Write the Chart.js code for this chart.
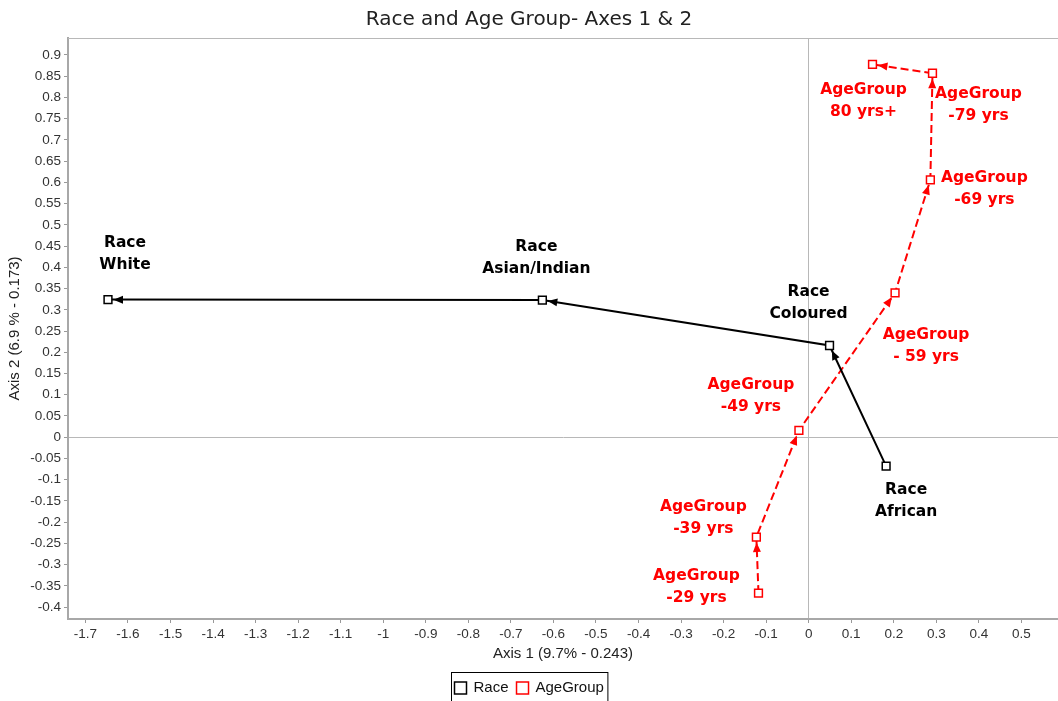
<!DOCTYPE html>
<html>
<head>
<meta charset="utf-8">
<title>Race and Age Group- Axes 1 & 2</title>
<script src="https://cdn.jsdelivr.net/npm/chart.js@4.4.1/dist/chart.umd.min.js"></script>
<style>
  html, body { margin: 0; padding: 0; background: #fff; }
</style>
</head>
<body>
<canvas id="chart" width="1058" height="701"></canvas>
<script>
// category names, in the order the arrows run
const raceNames = ['African', 'Coloured', 'Asian/Indian', 'White'];
const raceAxis1 = [0.182, 0.049, -0.626, -1.647];
const raceAxis2 = [-0.068, 0.216, 0.323, 0.324];

const ageNames = ['-29 yrs', '-39 yrs', '-49 yrs', '- 59 yrs', '-69 yrs', '-79 yrs', '80 yrs+'];
const ageAxis1 = [-0.118, -0.123, -0.023, 0.203, 0.286, 0.291, 0.150];
const ageAxis2 = [-0.367, -0.235, 0.016, 0.340, 0.606, 0.857, 0.878];

const xTicks = [-1.7, -1.6, -1.5, -1.4, -1.3, -1.2, -1.1, -1, -0.9, -0.8, -0.7, -0.6,
                -0.5, -0.4, -0.3, -0.2, -0.1, 0, 0.1, 0.2, 0.3, 0.4, 0.5];
const yTicks = [-0.4, -0.35, -0.3, -0.25, -0.2, -0.15, -0.1, -0.05, 0, 0.05, 0.1, 0.15,
                0.2, 0.25, 0.3, 0.35, 0.4, 0.45, 0.5, 0.55, 0.6, 0.65, 0.7, 0.75, 0.8, 0.85, 0.9];

// where each two-line label sits relative to its point (px)
const raceLabelOffsets = [[20, 24], [-21, -54], [-6, -53], [17, -57]];
const ageLabelOffsets = [[-62, -17], [-53, -30], [-48, -45], [31, 42], [54, -2], [46, 21], [-9, 26]];

const RED = '#ff0000';

function toPoints(xs, ys) {
    return xs.map((x, i) => ({ x: x, y: ys[i] }));
}

const pointLabels = {
    id: 'pointLabels',
    afterDatasetsDraw(chart) {
        const ctx = chart.ctx;
        ctx.save();
        ctx.font = 'bold 15.5px "DejaVu Sans"';
        ctx.textAlign = 'center';
        ctx.textBaseline = 'middle';
        chart.data.datasets.forEach((ds, i) => {
            ctx.fillStyle = ds.borderColor;
            chart.getDatasetMeta(i).data.forEach((pt, j) => {
                const off = ds.labelOffsets[j];
                ctx.fillText(ds.label, pt.x + off[0], pt.y + off[1]);
                ctx.fillText(ds.names[j], pt.x + off[0], pt.y + off[1] + 22);
            });
        });
        ctx.restore();
    }
};

const arrowHeads = {
    id: 'arrowHeads',
    afterDatasetsDraw(chart) {
        const ctx = chart.ctx;
        chart.data.datasets.forEach((ds, i) => {
            const pts = chart.getDatasetMeta(i).data;
            for (let k = 1; k < pts.length; k++) {
                const a = pts[k - 1], b = pts[k];
                const ang = Math.atan2(b.y - a.y, b.x - a.x);
                ctx.save();
                ctx.translate(b.x, b.y);
                ctx.rotate(ang);
                ctx.fillStyle = ds.borderColor;
                ctx.beginPath();
                ctx.moveTo(-5.5, 0);
                ctx.lineTo(-15, -4);
                ctx.lineTo(-15, 4);
                ctx.closePath();
                ctx.fill();
                ctx.restore();
            }
        });
    }
};

const frameAndLegend = {
    id: 'frameAndLegend',
    beforeDatasetsDraw(chart) {
        const ctx = chart.ctx, area = chart.chartArea;
        ctx.save();
        ctx.strokeStyle = '#b8b8b8';
        ctx.lineWidth = 1;
        ctx.beginPath();
        ctx.moveTo(area.left, area.top + 0.5);
        ctx.lineTo(area.right, area.top + 0.5);
        ctx.stroke();
        ctx.restore();
    },
    afterDraw(chart) {
        const ctx = chart.ctx;
        ctx.save();
        ctx.font = '15px "Liberation Sans"';
        ctx.textBaseline = 'middle';
        const items = chart.data.datasets.map(ds => ({ text: ds.label, color: ds.borderColor, w: ctx.measureText(ds.label).width }));
        let total = 3 + 4;
        items.forEach((it, i) => { total += 12 + 7 + it.w + (i ? 8 : 0); });
        const left = Math.round(chart.width / 2 - total / 2) + 0.5;
        const top = 672.5, cy = 688;
        ctx.strokeStyle = '#000';
        ctx.lineWidth = 1;
        ctx.strokeRect(left, top, total, 40);
        let x = left + 3;
        items.forEach((it, i) => {
            if (i) x += 8;
            ctx.strokeStyle = it.color;
            ctx.lineWidth = 1.5;
            ctx.fillStyle = '#fff';
            ctx.fillRect(x, cy - 6, 12, 12);
            ctx.strokeRect(x, cy - 6, 12, 12);
            x += 12 + 7;
            ctx.fillStyle = '#111';
            ctx.fillText(it.text, x, cy);
            x += it.w;
        });
        ctx.restore();
    }
};

const zeroLine = c => (c.tick && Math.abs(c.tick.value) < 1e-9) ? '#b8b8b8' : 'rgba(0,0,0,0)';
const tickFont = { family: '"Liberation Sans"', size: 13.5 };

new Chart(document.getElementById('chart'), {
    type: 'scatter',
    data: {
        datasets: [{
            label: 'Race',
            names: raceNames,
            labelOffsets: raceLabelOffsets,
            data: toPoints(raceAxis1, raceAxis2),
            showLine: true,
            borderColor: '#000',
            borderWidth: 2,
            pointStyle: 'rect',
            pointRadius: 5.5,
            pointBorderWidth: 1.5,
            pointBorderColor: '#000',
            pointBackgroundColor: '#fff'
        }, {
            label: 'AgeGroup',
            names: ageNames,
            labelOffsets: ageLabelOffsets,
            data: toPoints(ageAxis1, ageAxis2),
            showLine: true,
            borderColor: RED,
            borderWidth: 2,
            borderDash: [8, 4],
            pointStyle: 'rect',
            pointRadius: 5.5,
            pointBorderWidth: 1.5,
            pointBorderColor: RED,
            pointBackgroundColor: '#fff'
        }]
    },
    options: {
        responsive: false,
        animation: false,
        layout: { autoPadding: false, padding: { left: 0, right: 0, top: 0, bottom: 25 } },
        plugins: {
            legend: { display: false },
            tooltip: { enabled: false },
            title: {
                display: true,
                text: 'Race and Age Group- Axes 1 & 2',
                color: '#222',
                font: { family: '"DejaVu Sans"', size: 20, weight: 'normal' },
                padding: { top: 8, bottom: 6 }
            }
        },
        scales: {
            x: {
                type: 'linear',
                min: -1.741,
                max: 0.586,
                afterBuildTicks: s => { s.ticks = xTicks.map(v => ({ value: v })); },
                afterFit: s => { s.height = 57; s.paddingLeft = 0; s.paddingRight = 0; },
                ticks: {
                    autoSkip: false, maxRotation: 0, padding: 3,
                    color: '#333', font: tickFont,
                    callback: v => String(v)
                },
                grid: { color: zeroLine, tickColor: '#999', tickLength: 4, lineWidth: 1 },
                border: { color: '#a8a8a8', width: 2 },
                title: {
                    display: true,
                    text: 'Axis 1 (9.7% - 0.243)',
                    color: '#222',
                    font: { family: '"Liberation Sans"', size: 15 },
                    padding: { top: 0, bottom: 13 }
                }
            },
            y: {
                type: 'linear',
                min: -0.428,
                max: 0.94,
                afterBuildTicks: s => { s.ticks = yTicks.map(v => ({ value: v })); },
                afterFit: s => { s.width = 68; s.paddingTop = 0; s.paddingBottom = 0; },
                ticks: {
                    autoSkip: false, padding: 3,
                    color: '#333', font: tickFont,
                    callback: v => String(v)
                },
                grid: { color: zeroLine, tickColor: '#999', tickLength: 4, lineWidth: 1 },
                border: { color: '#a8a8a8', width: 2 },
                title: {
                    display: true,
                    text: 'Axis 2 (6.9 % - 0.173)',
                    color: '#222',
                    font: { family: '"Liberation Sans"', size: 15 },
                    padding: { top: 6, bottom: 0 }
                }
            }
        }
    },
    plugins: [frameAndLegend, arrowHeads, pointLabels]
});
</script>
</body>
</html>
